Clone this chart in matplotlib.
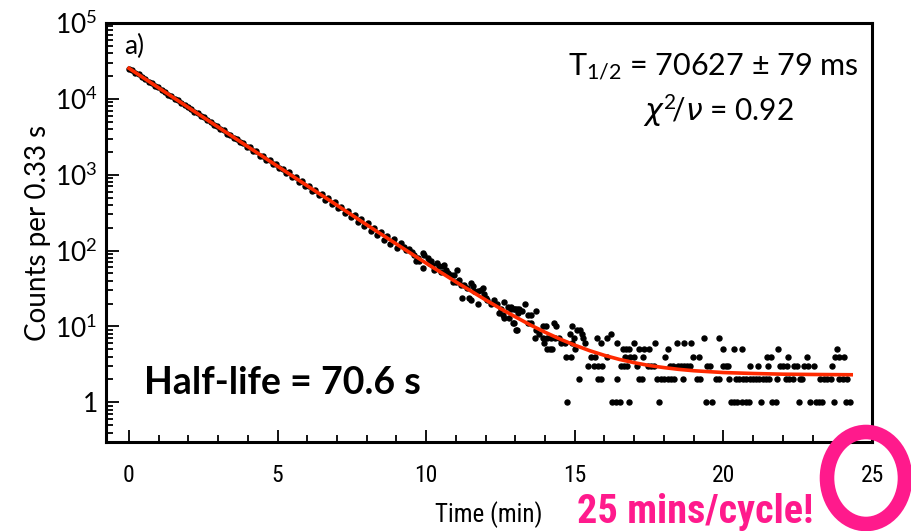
import matplotlib
matplotlib.use("Agg")
import matplotlib.pyplot as plt
import numpy as np
from matplotlib.patches import Ellipse
from matplotlib.ticker import FixedLocator, LogLocator, MultipleLocator, NullFormatter

plt.rcParams["font.family"] = ["Lato", "DejaVu Sans"]
plt.rcParams["mathtext.fontset"] = "custom"
plt.rcParams["mathtext.rm"] = "Lato"
plt.rcParams["mathtext.it"] = "DejaVu Sans:italic"
plt.rcParams["mathtext.default"] = "regular"

NARROW = ["Roboto Condensed", "Roboto", "DejaVu Sans"]
PINK = "#ff1a8c"
FIT_RED = "#ff2a00"

# ---- data ----
# dense part of the decay, one value per 0.11 min bin starting at t = 0
bin_width = 0.11
dense_counts = [
    25100, 23900, 22000, 20950, 19300, 18400, 16900, 16150, 14850, 14200,
    13000, 12450, 11400, 10950, 10050, 9560, 8780, 8420, 7700, 7380,
    6760, 6490, 5920, 5700, 5190, 5010, 4540, 4400, 3980, 3870,
    3490, 3390, 3050, 2990, 2670, 2630, 2340, 2310, 2050, 2030,
    1790, 1780, 1570, 1560, 1370, 1380, 1210, 1205, 1050, 1070,
    925, 930, 805, 820, 705, 720, 615, 635, 540, 560,
    470, 490, 415, 432, 362, 378, 312, 332, 275, 295,
    238, 258, 212, 229, 182, 201, 160, 176, 139, 156,
    121, 141, 108,
]

# scattered points between ~9 and ~16 min
mid_t = [9.15, 9.26, 9.32, 9.43, 9.54, 9.60, 9.65, 9.71, 9.76, 9.88,
         9.93, 9.88, 10.05, 10.10, 10.16, 10.21, 10.27, 10.38, 10.44, 10.55,
         10.49, 10.61, 10.66, 10.72, 10.83, 10.94, 11.03, 10.89, 11.00, 11.11,
         11.17, 11.28, 11.39, 11.50, 11.56, 11.61, 11.73, 11.84, 11.90, 11.95,
         12.01, 11.73, 11.22, 11.45, 11.50, 12.06, 12.17, 12.29, 12.40, 12.51,
         12.62, 12.46, 12.57, 12.74, 12.85, 12.96, 13.07, 12.62, 12.79, 12.91,
         13.02, 12.85, 12.98, 13.13, 13.24, 13.10, 13.32, 13.41, 13.54, 13.69,
         12.94, 13.04, 13.41, 13.52, 13.69, 13.92, 14.03, 14.29, 14.36, 13.80,
         14.92, 15.07, 15.18, 15.23, 14.85, 16.21, 14.33, 14.47, 14.98]
mid_c = [125, 113, 102, 104, 97, 88, 72, 79, 72, 92,
         88, 59, 79, 68, 72, 65, 56, 68, 62, 62,
         53, 65, 56, 50, 48, 48, 55, 39, 39, 41,
         35, 35, 32, 37, 34, 29, 29, 30, 32, 27,
         24, 20, 24, 24, 22, 22, 20, 22, 20, 17,
         21, 15, 14, 18, 17, 17, 17, 13, 13, 11,
         9, 18, 17, 17, 16, 15, 20, 14, 14, 16,
         11, 9, 11, 11, 9, 10, 10, 11, 10, 8,
         10, 9, 9, 8, 8, 8, 7, 7, 7]

# tail: integer counts, times (min) of the dots on each level
tail_t = {
    1: [14.73, 16.25, 16.38, 16.53, 16.83, 17.84, 19.41, 19.63, 20.25, 20.36,
        20.47, 20.64, 20.75, 20.86, 21.26, 21.65, 21.76, 22.55, 22.91, 23.11,
        23.22, 23.33, 23.72, 24.12, 24.26],
    2: [15.15, 15.79, 15.88, 16.43, 17.16, 17.25, 17.78, 17.89, 18.01, 18.12,
        18.23, 18.34, 18.64, 19.11, 19.22, 19.75, 19.86, 20.19, 20.42, 20.53,
        20.65, 20.76, 20.88, 20.99, 21.10, 21.21, 21.32, 21.43, 21.54, 21.82,
        22.10, 22.21, 22.34, 22.58, 22.66, 23.25, 23.37, 23.47, 23.61, 23.89,
        24.01, 24.15],
    3: [15.45, 15.65, 15.79, 15.93, 16.55, 16.66, 16.77, 17.09, 17.45, 17.56,
        17.67, 18.21, 18.32, 18.46, 18.57, 18.68, 18.79, 18.88, 19.44, 19.55,
        19.97, 20.08, 20.16, 20.88, 21.15, 21.50, 21.91, 22.02, 22.13, 22.38,
        22.49, 22.71, 22.83, 23.05, 23.64],
    4: [14.70, 14.87, 15.54, 15.67, 16.10, 16.68, 16.85, 17.00, 17.31, 18.03,
        18.99, 19.18, 21.46, 21.59, 22.16, 22.81, 23.75, 23.89, 24.06],
    5: [14.06, 14.17, 14.25, 15.00, 16.61, 16.72, 16.83, 17.16, 17.33, 17.50,
        18.15, 20.00, 20.36, 20.64, 21.85, 23.81],
    6: [13.97, 14.55, 14.67, 14.92, 15.34, 15.88, 16.41, 17.00, 17.69, 18.43,
        18.68, 18.90],
    7: [13.66, 13.92, 14.08, 14.19, 15.26, 15.74, 16.10, 19.35, 19.86],
}

# fitted curve, sampled from the red line
fit_t = [0, 1, 2, 3, 4, 5, 6, 7, 8, 9, 10, 11, 12, 12.5, 13, 13.5, 14, 14.5,
         15, 15.5, 16, 16.5, 17, 17.5, 18, 18.5, 19, 20, 21, 22, 23, 24.3]
fit_c = [25300, 13960, 7700, 4250, 2345, 1294, 715, 396, 219, 122, 68.3, 38.7,
         22.4, 17.2, 13.4, 10.5, 8.4, 6.83, 5.67, 4.80, 4.16, 3.68, 3.33, 3.06,
         2.87, 2.72, 2.61, 2.47, 2.40, 2.35, 2.33, 2.31]

y_ticks = [1, 10, 100, 1e3, 1e4, 1e5]
y_tick_labels = ["1", "$10^{1}$", "$10^{2}$", "$10^{3}$", "$10^{4}$", "$10^{5}$"]
x_ticks = [0, 5, 10, 15, 20, 25]

# ---- figure ----
fig = plt.figure(figsize=(9.11, 5.31), dpi=100)
ax = fig.add_axes([0.1164, 0.1676, 0.9572 - 0.1164, 0.9567 - 0.1676])

dense_t = np.arange(len(dense_counts)) * bin_width
ax.plot(dense_t, dense_counts, "o", ms=3.6, color="black", zorder=2)
ax.plot(mid_t, mid_c, "o", ms=3.6, color="black", zorder=2)
for level, times in tail_t.items():
    ax.plot(times, [level] * len(times), "o", ms=3.6, color="black", zorder=2)
ax.plot(fit_t, fit_c, "-", color=FIT_RED, lw=2.6, zorder=3)

ax.set_yscale("log")
ax.set_xlim(-0.77, 25.0)
ax.set_ylim(0.30, 1e5)

ax.yaxis.set_major_locator(FixedLocator(y_ticks))
ax.set_yticklabels(y_tick_labels, fontsize=19)
ax.yaxis.set_minor_locator(LogLocator(base=10, subs=np.arange(2, 10), numticks=20))
ax.yaxis.set_minor_formatter(NullFormatter())
ax.set_xticks(x_ticks)
ax.set_xticklabels([str(v) for v in x_ticks], fontsize=17, family=NARROW)
ax.xaxis.set_minor_locator(MultipleLocator(1))

ax.tick_params(which="both", direction="in", width=1.3)
ax.tick_params(which="major", length=9)
ax.tick_params(which="minor", length=5)
ax.tick_params(axis="x", which="both", pad=16)
ax.tick_params(axis="y", which="both", pad=6)
for sp in ax.spines.values():
    sp.set_linewidth(2.2)

ax.set_ylabel("Counts per 0.33 s", fontsize=20, labelpad=3)

ax.text(0.024, 0.975, "a)", transform=ax.transAxes, fontsize=19,
        ha="left", va="top")
ax.text(0.983, 0.895, "T$_{1/2}$ = 70627 ± 79 ms", transform=ax.transAxes,
        fontsize=22, ha="right", va="center")
ax.text(0.800, 0.79, r"$\mathit{\chi}^{2}\!/\mathit{\nu}$ = 0.92",
        transform=ax.transAxes, fontsize=21.5, ha="center", va="center")
ax.text(0.05, 0.14, "Half-life = 70.6 s", transform=ax.transAxes,
        fontsize=27, fontweight="bold", ha="left", va="center")

fig.text(0.537, 0.03, "Time (min)", fontsize=18, family=NARROW,
         ha="center", va="center")
fig.text(0.763, 0.035, "25 mins/cycle!", fontsize=29, fontweight="bold",
         family=NARROW, color=PINK, ha="center", va="center")

ring = Ellipse((866 / 911, 1 - 478 / 531), 2 * 39 / 911, 2 * 46 / 531,
               transform=fig.transFigure, fill=False, edgecolor=PINK,
               lw=10.5, clip_on=False)
fig.add_artist(ring)

fig.savefig("out.png", dpi=100)
